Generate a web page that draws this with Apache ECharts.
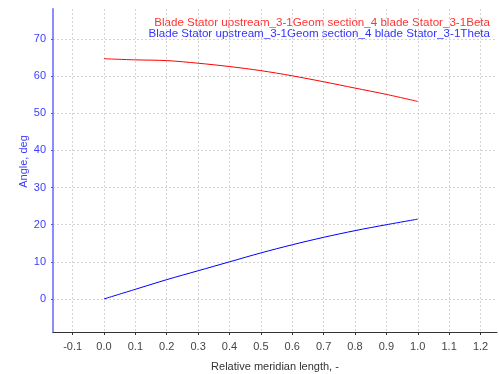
<!DOCTYPE html>
<html>
<head>
<meta charset="utf-8">
<script src="https://cdn.jsdelivr.net/npm/echarts@6/dist/echarts.min.js"></script>
<style>
  html, body { margin: 0; padding: 0; background: #ffffff; }
  #chart { width: 499px; height: 374px; }
</style>
</head>
<body>
<div id="chart"></div>
<script>
// Relative meridian position along the blade section
const meridian = [0.0, 0.1, 0.2, 0.3, 0.4, 0.5, 0.6, 0.7, 0.8, 0.9, 1.0];
// Blade angle Beta, deg
const betaDeg = [64.7, 64.4, 64.2, 63.5, 62.6, 61.5, 60.1, 58.5, 56.8, 55.1, 53.2];
// Wrap angle Theta, deg
const thetaDeg = [0.0, 2.6, 5.2, 7.6, 10.0, 12.4, 14.6, 16.6, 18.4, 20.0, 21.5];

// Tick values shown on each axis
const xTicks = [-0.1, 0.0, 0.1, 0.2, 0.3, 0.4, 0.5, 0.6, 0.7, 0.8, 0.9, 1.0, 1.1, 1.2];
const yTicks = [0, 10, 20, 30, 40, 50, 60, 70];

const seriesNames = [
  'Blade Stator upstream_3-1Geom section_4 blade Stator_3-1Beta',
  'Blade Stator upstream_3-1Geom section_4 blade Stator_3-1Theta'
];
const seriesColors = ['#ff0000', '#0000ff'];
const keyColors = ['#ff3333', '#3333ff'];

const FONT = 'Liberation Sans, Arial, sans-serif';
const chart = echarts.init(document.getElementById('chart'), null, { renderer: 'canvas' });

const gridLine = { show: true, lineStyle: { color: '#d4d4d4', type: [2, 2], width: 1 } };

// Right-aligned series key in the upper right corner
const keyTexts = seriesNames.map((name, i) => ({
  type: 'text',
  right: 9,
  top: 17 + i * 11,
  style: {
    text: name,
    fill: keyColors[i],
    font: '11.6px ' + FONT,
    textAlign: 'right'
  }
}));

chart.setOption({
  backgroundColor: '#ffffff',
  animation: false,
  grid: { left: 53, right: 2, top: 9, bottom: 42, outerBoundsMode: 'none', containLabel: false },
  graphic: keyTexts,
  xAxis: {
    type: 'value',
    min: -0.1625,
    max: 1.2525,
    name: 'Relative meridian length, -',
    nameLocation: 'middle',
    nameGap: 29,
    nameTextStyle: { fontFamily: FONT, fontSize: 11, color: '#333333' },
    axisLine: { show: true, onZero: false, lineStyle: { color: '#333333', width: 1 } },
    axisTick: { show: true, length: 3, customValues: xTicks, lineStyle: { color: '#333333' } },
    axisLabel: {
      customValues: xTicks,
      fontFamily: FONT, fontSize: 11, color: '#444444', margin: 9,
      formatter: v => v.toFixed(1)
    },
    splitLine: gridLine
  },
  yAxis: {
    type: 'value',
    min: -8.9,
    max: 78.1,
    name: 'Angle, deg',
    nameLocation: 'middle',
    nameGap: 24,
    nameMoveOverlap: false,
    nameRotate: 90,
    nameTextStyle: { fontFamily: FONT, fontSize: 11, color: '#3c3cff', padding: [0, 0, 0, 18] },
    axisLine: { show: true, onZero: false, lineStyle: { color: '#8c8cff', width: 2 } },
    axisTick: { show: true, length: 2, customValues: yTicks, lineStyle: { color: '#5555ff' } },
    axisLabel: {
      customValues: yTicks,
      fontFamily: FONT, fontSize: 11, color: '#3c3cff', margin: 7
    },
    splitLine: gridLine
  },
  series: seriesNames.map((name, s) => ({
    name: name,
    type: 'line',
    data: meridian.map((x, i) => [x, (s === 0 ? betaDeg : thetaDeg)[i]]),
    showSymbol: false,
    smooth: 0.3,
    lineStyle: { color: seriesColors[s], width: 1 },
    itemStyle: { color: seriesColors[s] }
  }))
});
</script>
</body>
</html>
